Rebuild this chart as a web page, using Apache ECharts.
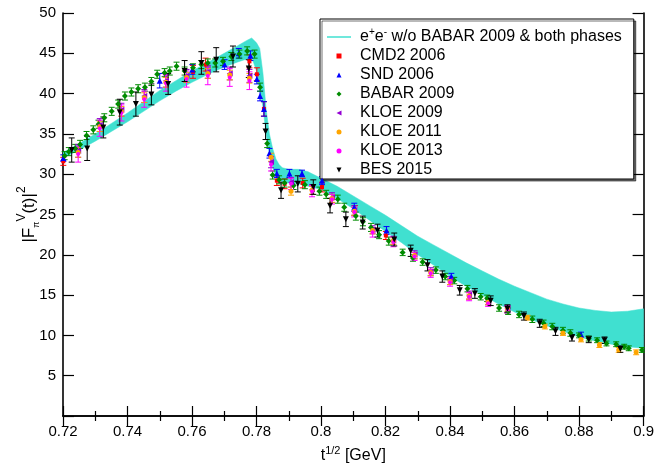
<!DOCTYPE html>
<html><head><meta charset="utf-8">
<script src="https://cdn.jsdelivr.net/npm/echarts@6/dist/echarts.min.js"></script>
<style>html,body{margin:0;padding:0;background:#fff}#c{width:657px;height:471px}</style>
</head><body><div id="c"></div>
<script>
// ---- data ----
const bandName = 'e+e- w/o BABAR 2009 & both phases';
const bandX  = [0.72,0.725,0.73,0.735,0.74,0.745,0.75,0.755,0.76,0.765,0.77,0.774,0.777,0.7785,0.78,0.781,0.782,0.783,0.784,0.785,0.786,0.787,0.788,0.79,0.793,0.796,0.8,0.805,0.81,0.815,0.82,0.825,0.83,0.835,0.84,0.845,0.85,0.855,0.86,0.865,0.87,0.875,0.88,0.885,0.89,0.895,0.9];
const bandLo = [32.0,33.0,34.1,35.3,36.5,37.8,39.1,40.3,41.4,42.4,43.3,43.9,44.3,44.5,42.8,40.5,38.3,34.8,32.5,30.8,29.8,29.3,29.0,28.9,28.8,28.5,28.1,27.0,25.7,24.3,22.9,21.5,20.0,18.7,17.3,16.1,15.0,13.9,12.9,12.0,11.2,10.5,9.8,9.3,8.9,8.6,8.4];
const bandHi = [32.7,33.8,35.0,36.3,37.6,39.0,40.4,41.6,42.8,43.9,45.0,45.9,46.6,46.9,46.3,45.6,42.5,38.0,35.0,33.2,31.9,31.2,30.8,30.6,30.6,30.3,29.5,28.5,27.3,26.1,24.9,23.6,22.3,21.2,20.1,19.0,18.0,17.0,16.1,15.3,14.5,13.9,13.4,13.1,12.9,13.0,13.3];

// [x, value, error]
const cmd2 = [[0.7201,31.6,0.5],[0.7603,42.7,0.8],[0.7642,43.6,0.8],[0.7778,44.0,0.8],[0.7801,42.4,0.8],[0.7823,38.1,0.9],[0.7863,29.2,0.6],[0.7887,28.8,0.6],[0.7943,28.9,0.6],[0.8003,28.4,0.6],[0.8105,25.5,0.6],[0.8201,22.4,0.5]];
const snd = [[0.7201,32.0,0.4],[0.7500,41.6,0.9],[0.7601,43.0,0.6],[0.7701,43.6,0.6],[0.7745,45.0,0.6],[0.7781,44.7,0.6],[0.7801,41.8,0.6],[0.7811,39.7,0.6],[0.7823,38.1,0.9],[0.7840,32.6,0.6],[0.7863,30.1,0.5],[0.7902,30.1,0.5],[0.7941,30.1,0.4],[0.8003,29.2,0.5],[0.8103,25.9,0.5],[0.8203,23.0,0.5],[0.8404,17.3,0.4],[0.8806,10.1,0.3]];
const babar = [[0.7205,32.3,0.5],[0.7218,32.8,0.5],[0.7238,33.2,0.5],[0.7253,33.7,0.5],[0.7273,34.8,0.5],[0.7294,35.5,0.5],[0.7310,36.2,0.5],[0.7328,37.0,0.5],[0.7351,37.8,0.5],[0.7371,38.7,0.5],[0.7392,39.7,0.5],[0.7412,40.2,0.5],[0.7433,40.6,0.5],[0.7454,40.8,0.5],[0.7474,41.5,0.5],[0.7492,42.4,0.5],[0.7515,42.6,0.5],[0.7531,42.8,0.5],[0.7552,43.4,0.5],[0.7577,42.8,0.5],[0.7603,43.2,0.5],[0.7629,43.6,0.5],[0.7649,43.8,0.5],[0.7672,43.8,0.5],[0.7696,44.0,0.5],[0.7722,44.6,0.5],[0.7747,44.9,0.5],[0.7771,45.3,0.5],[0.7794,44.9,0.5],[0.7811,40.8,0.5],[0.7833,33.8,0.5],[0.7850,29.9,0.5],[0.7870,29.3,0.5],[0.7887,28.9,0.5],[0.7915,28.6,0.5],[0.7950,28.7,0.5],[0.7995,27.9,0.5],[0.8016,27.5,0.5],[0.8052,26.9,0.5],[0.8072,25.9,0.5],[0.8108,24.8,0.5],[0.8130,24.1,0.5],[0.8155,23.4,0.5],[0.8180,22.5,0.5],[0.8210,21.7,0.5],[0.8253,20.3,0.4],[0.8285,19.6,0.4],[0.8315,19.1,0.4],[0.8356,18.1,0.4],[0.8385,17.3,0.4],[0.8413,16.8,0.4],[0.8454,15.8,0.4],[0.8495,14.8,0.4],[0.8515,14.6,0.4],[0.8552,13.4,0.4],[0.8580,13.0,0.4],[0.8614,12.6,0.4],[0.8655,12.0,0.4],[0.8690,11.5,0.4],[0.8717,11.1,0.4],[0.8750,10.6,0.4],[0.8773,10.3,0.4],[0.8800,10.0,0.3],[0.8830,9.6,0.3],[0.8856,9.4,0.3],[0.8885,9.0,0.3],[0.8915,8.9,0.3],[0.8940,8.6,0.3],[0.8954,8.4,0.3],[0.8995,8.2,0.3]];
const kloe09 = [[0.7247,32.9,0.8],[0.7314,36.1,0.8],[0.7381,38.0,0.8],[0.7452,39.7,0.8],[0.7519,41.6,0.8],[0.7583,42.2,0.8],[0.7649,42.7,0.8],[0.7717,42.5,0.8],[0.7778,42.2,0.8],[0.7845,31.5,0.7],[0.7907,29.0,0.6],[0.7972,28.1,0.6],[0.8034,27.1,0.6],[0.8103,25.5,0.6],[0.8160,23.1,0.5],[0.8224,21.8,0.5],[0.8290,20.0,0.5],[0.8340,17.9,0.5],[0.8400,16.8,0.5],[0.8459,15.0,0.5],[0.8518,14.2,0.4],[0.8578,13.3,0.4]];
const kloe11 = [[0.7247,32.7,0.6],[0.7314,35.9,0.6],[0.7381,37.8,0.6],[0.7452,39.5,0.6],[0.7519,41.4,0.6],[0.7583,42.0,0.6],[0.7649,42.5,0.6],[0.7717,42.3,0.6],[0.7778,41.9,0.6],[0.7845,32.1,0.5],[0.7907,27.9,0.5],[0.7972,28.0,0.5],[0.8034,27.0,0.5],[0.8103,25.4,0.5],[0.8160,23.0,0.4],[0.8224,21.7,0.4],[0.8290,19.9,0.4],[0.8340,17.8,0.4],[0.8400,16.7,0.4],[0.8459,14.9,0.4],[0.8518,14.1,0.3],[0.8578,13.3,0.3],[0.8640,12.2,0.3],[0.8694,11.1,0.3],[0.8750,10.3,0.3],[0.8806,9.5,0.3],[0.8863,8.8,0.3],[0.8923,8.2,0.3],[0.8977,7.9,0.3]];
const kloe13 = [[0.7247,32.5,1.0],[0.7314,35.7,1.0],[0.7381,37.6,1.0],[0.7452,39.3,1.0],[0.7519,41.3,1.0],[0.7583,41.8,1.0],[0.7649,42.2,1.1],[0.7717,42.0,1.1],[0.7778,41.6,1.1],[0.7845,31.2,0.8],[0.7907,28.8,0.7],[0.7972,27.9,0.7],[0.8034,26.9,0.6],[0.8103,25.3,0.6],[0.8160,22.8,0.6],[0.8224,21.6,0.6],[0.8290,19.8,0.5],[0.8340,17.7,0.5],[0.8400,16.6,0.5],[0.8459,14.8,0.5],[0.8518,14.0,0.4],[0.8578,13.2,0.4]];
const bes = [[0.7227,33.0,1.5],[0.7275,33.2,1.5],[0.7325,35.8,1.3],[0.7376,37.7,1.6],[0.7426,38.7,1.5],[0.7474,39.9,1.3],[0.7526,41.2,1.3],[0.7577,42.8,1.3],[0.7629,43.8,1.4],[0.7675,44.2,1.5],[0.7727,44.6,1.3],[0.7776,43.1,1.1],[0.7828,35.3,1.0],[0.7876,28.0,1.0],[0.7928,28.8,1.0],[0.7976,28.4,0.9],[0.8028,26.1,0.9],[0.8077,24.4,0.9],[0.8129,24.0,0.8],[0.8175,23.0,0.8],[0.8227,21.9,0.8],[0.8278,20.5,0.7],[0.8330,18.7,0.7],[0.8376,17.3,0.7],[0.8430,15.6,0.6],[0.8477,15.2,0.6],[0.8526,14.3,0.6],[0.8578,13.3,0.5],[0.8629,12.4,0.5],[0.8678,11.5,0.5],[0.8727,10.5,0.5],[0.8778,9.7,0.4],[0.8830,9.5,0.4],[0.8879,9.4,0.4],[0.8928,8.3,0.4]];

const SQUARE = 'path://M0,0 L10,0 L10,10 L0,10 Z';
const TRI_UP = 'path://M5,0 L10,10 L0,10 Z';
const DIAMOND = 'path://M5,0 L10,5 L5,10 L0,5 Z';
const TRI_LEFT = 'path://M0,5 L10,0 L10,10 Z';
const TRI_DOWN = 'path://M0,0 L10,0 L5,10 Z';
const LINE_ICON = 'path://M0,0 L24,0 L24,1.5 L0,1.5 Z';

const sets = [
  {name:'CMD2 2006', data:cmd2, color:'#ff0000', symbol:SQUARE, size:4},
  {name:'SND 2006', data:snd, color:'#0000ff', symbol:TRI_UP, size:6},
  {name:'BABAR 2009', data:babar, color:'#008b00', symbol:DIAMOND, size:6},
  {name:'KLOE 2009', data:kloe09, color:'#9400d3', symbol:TRI_LEFT, size:6},
  {name:'KLOE 2011', data:kloe11, color:'#ffa500', symbol:'circle', size:5},
  {name:'KLOE 2013', data:kloe13, color:'#ff00ff', symbol:'circle', size:4},
  {name:'BES 2015', data:bes, color:'#000000', symbol:TRI_DOWN, size:6}
];

const FONT = '"Liberation Sans", Arial, Helvetica, sans-serif';
const chart = echarts.init(document.getElementById('c'));

const series = [];
series.push({
  name:'band', type:'custom', data:[[0.8,20]], z:1, silent:true, clip:true,
  renderItem:(params, api) => {
    const pts = [];
    for (let i=0;i<bandX.length;i++) pts.push(api.coord([bandX[i], bandHi[i]]));
    for (let i=bandX.length-1;i>=0;i--) pts.push(api.coord([bandX[i], bandLo[i]]));
    return {type:'polygon', shape:{points:pts}, style:{fill:'#40e0d0', stroke:'#40e0d0', lineWidth:0.5}};
  }
});
series.push({name:bandName, type:'line', data:[], symbol:'none', lineStyle:{color:'#40e0d0', width:1.5}, itemStyle:{color:'#40e0d0'}});

sets.forEach(s => {
  series.push({
    name:s.name+' err', type:'custom', data:s.data, z:3, silent:true,
    encode:{x:0, y:1},
    renderItem:(params, api) => {
      const x = api.value(0), y = api.value(1), e = api.value(2);
      const lo = api.coord([x, y-e]), hi = api.coord([x, y+e]);
      const w = 3;
      const st = {stroke:s.color, lineWidth:1};
      return {type:'group', children:[
        {type:'line', shape:{x1:lo[0], y1:lo[1], x2:hi[0], y2:hi[1]}, style:st},
        {type:'line', shape:{x1:lo[0]-w, y1:lo[1], x2:lo[0]+w, y2:lo[1]}, style:st},
        {type:'line', shape:{x1:hi[0]-w, y1:hi[1], x2:hi[0]+w, y2:hi[1]}, style:st}
      ]};
    }
  });
  series.push({
    name:s.name, type:'scatter', data:s.data.map(d=>[d[0],d[1]]), z:4,
    symbol:s.symbol, symbolSize:s.size, itemStyle:{color:s.color, opacity:1}
  });
});

const legendData = [{name:bandName, icon:LINE_ICON, itemStyle:{color:'#40e0d0'}}]
  .concat(sets.map(s => ({name:s.name, icon:s.symbol, itemStyle:{color:s.color}})));

const xTick = {show:true, inside:true, length:10, lineStyle:{color:'#000', width:1.2}};
const xMinor = {show:true, splitNumber:2, length:5, lineStyle:{color:'#000', width:1.2}};

chart.setOption({
  animation:false,
  backgroundColor:'#fff',
  textStyle:{fontFamily:FONT},
  grid:{left:63, right:12, top:13, bottom:50, containLabel:false},
  xAxis:[{
    type:'value', min:0.72, max:0.9, interval:0.02, position:'bottom',
    axisLine:{lineStyle:{color:'#000', width:1.6}},
    axisTick:xTick, minorTick:xMinor, splitLine:{show:false}, minorSplitLine:{show:false},
    axisLabel:{color:'#000', fontSize:15, fontFamily:FONT, margin:8, formatter:v => String(+v.toFixed(2))},
    name:'t{sup|1/2} [GeV]', nameLocation:'middle', nameGap:30, nameMoveOverlap:false,
    nameTextStyle:{color:'#000', fontSize:16, fontFamily:FONT, lineHeight:20,
      rich:{sup:{fontSize:11, lineHeight:20, verticalAlign:'bottom', padding:[0,0,10,0], fontFamily:FONT, color:'#000'}}}
  },{
    type:'value', min:0.72, max:0.9, interval:0.02, position:'top',
    axisLine:{lineStyle:{color:'#000', width:1.6}},
    axisTick:xTick, minorTick:xMinor, splitLine:{show:false}, axisLabel:{show:false}
  }],
  yAxis:[{
    type:'value', min:0, max:50, interval:5, position:'left',
    axisLine:{show:true, lineStyle:{color:'#000', width:1.6}},
    axisTick:{show:true, inside:true, length:11, lineStyle:{color:'#000', width:1.2}},
    splitLine:{show:false},
    axisLabel:{color:'#000', fontSize:15, fontFamily:FONT, margin:7, formatter:v => v===0 ? '' : String(v)},
    name:'|F{sub|π}{sup|V}(t)|{sup|2}', nameLocation:'middle', nameGap:22, nameRotate:90, nameMoveOverlap:false,
    nameTextStyle:{color:'#000', fontSize:17, fontFamily:FONT, lineHeight:24,
      rich:{
        sup:{fontSize:12, lineHeight:24, verticalAlign:'bottom', padding:[0,0,13,0], fontFamily:FONT, color:'#000'},
        sub:{fontSize:9, lineHeight:24, verticalAlign:'bottom', fontFamily:FONT, color:'#000'}
      }}
  },{
    type:'value', min:0, max:50, interval:5, position:'right',
    axisLine:{show:true, lineStyle:{color:'#000', width:1.6}},
    axisTick:{show:true, inside:true, length:11, lineStyle:{color:'#000', width:1.2}},
    splitLine:{show:false}, axisLabel:{show:false}
  }],
  legend:{
    show:true, orient:'vertical', left:320, top:19,
    data:legendData, symbolKeepAspect:true,
    itemWidth:24, itemHeight:5, itemGap:3,
    padding:[8,12,1,7],
    backgroundColor:'#fff', borderColor:'#000', borderWidth:1,
    shadowColor:'rgba(0,0,0,0.55)', shadowOffsetX:2, shadowOffsetY:2, shadowBlur:0,
    selectedMode:false,
    formatter: name => name===bandName ? 'e{sup|+}e{sup|-} w/o BABAR 2009 & both phases' : name,
    textStyle:{color:'#000', fontSize:16, fontFamily:FONT, lineHeight:16, padding:[0,0,0,4],
      rich:{sup:{fontSize:10, lineHeight:16, verticalAlign:'bottom', padding:[0,0,8,0], fontFamily:FONT, color:'#000'}}}
  },
  series:series
});
</script></body></html>
